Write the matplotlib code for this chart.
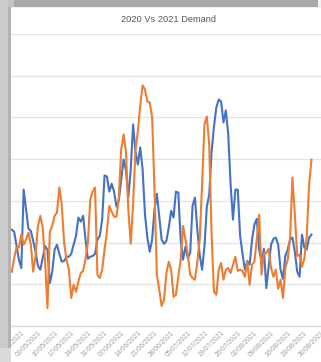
import matplotlib
matplotlib.use("Agg")
import matplotlib.pyplot as plt
import matplotlib.dates as mdates
from matplotlib.patches import Rectangle
import pandas as pd

# ---- data (daily demand) ----
start_date = "2021-04-22"
demand_2021 = [231, 226, 192, 159, 139, 327, 279, 233, 228, 204, 178, 144, 135, 163, 192, 183,
               103, 130, 183, 195, 173, 154, 156, 166, 166, 173, 195, 216, 260, 250, 264, 207,
               161, 166, 168, 173, 207, 216, 255, 361, 358, 322, 341, 322, 286, 301, 351, 399,
               373, 308, 375, 483, 418, 387, 428, 375, 267, 212, 178, 207, 279, 317, 262, 207,
               197, 204, 236, 276, 260, 322, 320, 207, 159, 190, 163, 175, 288, 308, 231, 171,
               135, 190, 286, 315, 418, 478, 524, 543, 538, 488, 517, 459, 339, 255, 327, 327,
               216, 173, 135, 156, 147, 207, 243, 257, 183, 154, 185, 91, 144, 195, 209, 212,
               195, 135, 113, 168, 183, 207, 212, 178, 130, 118, 219, 188, 183, 212, 219]
demand_2020 = [130, 163, 188, 188, 219, 195, 207, 224, 195, 130, 168, 240, 264, 236, 154, 43,
               226, 240, 264, 272, 332, 291, 200, 159, 135, 67, 99, 82, 106, 127, 132, 161,
               202, 303, 322, 332, 123, 115, 135, 183, 226, 288, 274, 262, 262, 308, 423, 459,
               418, 279, 197, 291, 423, 466, 529, 577, 567, 538, 536, 500, 327, 123, 87, 48,
               63, 127, 154, 135, 70, 75, 118, 159, 240, 207, 171, 123, 115, 111, 154, 207,
               339, 483, 502, 435, 219, 82, 75, 135, 151, 111, 135, 139, 127, 147, 166, 132,
               135, 132, 118, 154, 99, 147, 154, 207, 267, 123, 175, 175, 185, 139, 118, 135,
               89, 111, 67, 139, 159, 212, 356, 267, 168, 171, 142, 161, 214, 339, 399]
tick_start = "2021-04-26"
tick_end = "2021-08-30"
title = "2020 Vs 2021 Demand"

dates = pd.date_range(start_date, periods=len(demand_2021), freq="D")
ticks = pd.date_range(tick_start, tick_end, freq="7D")

W, H = 321, 362
fig = plt.figure(figsize=(W / 100, H / 100), dpi=100)
fig.patch.set_facecolor("white")

# screenshot frame (grey borders)
def px_rect(x0, y0, x1, y1, color):
    fig.patches.append(Rectangle((x0 / W, 1 - y1 / H), (x1 - x0) / W, (y1 - y0) / H,
                                 transform=fig.transFigure, facecolor=color,
                                 edgecolor="none", zorder=0))

px_rect(0, 0, 321, 8, "#f2f2f2")
px_rect(14, 0, 318, 7, "#a9a9a9")
px_rect(0, 0, 14, 7, "#c4c4c4")
px_rect(0, 0, 8, 362, "#cbcbcb")
px_rect(8, 7, 11, 362, "#b3b3b3")
px_rect(0, 348, 11, 362, "#dadada")

ax = fig.add_axes([11 / W, 36 / H, 310 / W, 292 / H])
ax.set_facecolor("none")

ax.plot(dates, demand_2021, color="#4472C4", lw=1.5, solid_joinstyle="round", zorder=3)
ax.plot(dates, demand_2020, color="#ED7D31", lw=1.5, solid_joinstyle="round", zorder=4)

base = mdates.date2num(pd.Timestamp(tick_start))
ax.set_xlim(base - 4.33, base + 121.1)
ax.set_ylim(0, 700)
ax.set_yticks(range(0, 701, 100))
ax.yaxis.grid(True, color="#e4e4e4", lw=0.9)
ax.set_axisbelow(True)
ax.tick_params(axis="y", left=False, labelleft=False)

ax.set_xticks(ticks)
ax.xaxis.set_major_formatter(mdates.DateFormatter("%d/%m/%Y"))
ax.tick_params(axis="x", length=0, pad=2.5, labelsize=4.9, labelcolor="#a0a0a0")
for lab in ax.get_xticklabels():
    lab.set_rotation(45)
    lab.set_ha("right")
    lab.set_va("top")
    lab.set_rotation_mode("anchor")
    lab.set_family("Liberation Sans")

for s in ("left", "right", "top"):
    ax.spines[s].set_visible(False)
ax.spines["bottom"].set_color("#d9d9d9")
ax.spines["bottom"].set_linewidth(0.9)

fig.text(168.5 / W, 1 - 19 / H, title, ha="center", va="center",
         fontsize=6.7, color="#595959", family="Liberation Sans")

fig.savefig("out.png", dpi=100)
